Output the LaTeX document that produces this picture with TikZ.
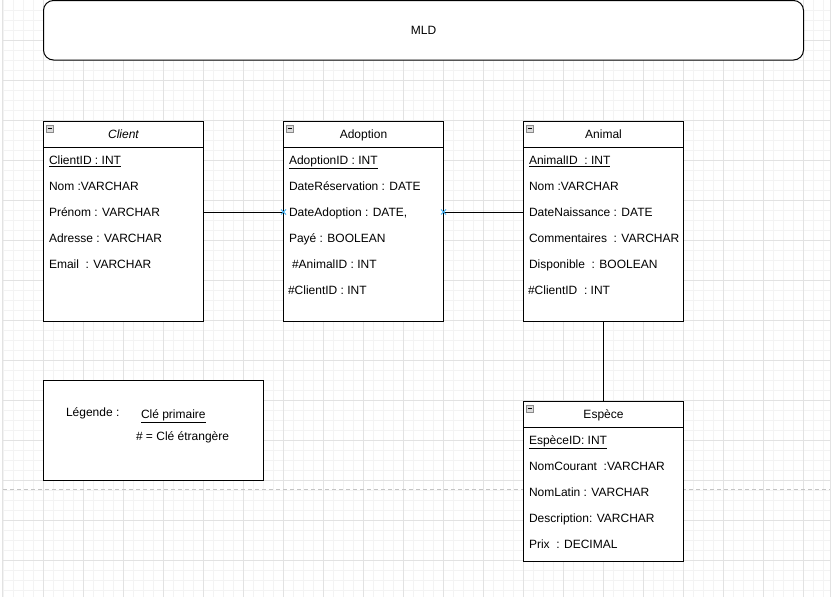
\documentclass[tikz,border=0pt]{standalone}
\usepackage{fontspec}
\setmainfont{Liberation Sans}
\definecolor{gridminor}{HTML}{F3F3F3}
\definecolor{gridmajor}{HTML}{E2E2E2}
\definecolor{hintblue}{HTML}{3BB0F5}
\definecolor{dashgray}{HTML}{C4C4C4}
\definecolor{icongray}{HTML}{8A8A8A}
\definecolor{iconfill}{HTML}{DCDCDC}
\begin{document}
\begin{tikzpicture}[x=1pt,y=-1pt,
  every node/.style={inner sep=0pt, outer sep=0pt, font=\fontsize{12}{14}\selectfont},
  tbl/.style={draw, line width=1pt, minimum width=160pt, anchor=north west},
  rowtxt/.style={anchor=west, text height=9pt, text depth=0pt},
  headtxt/.style={anchor=center, text height=9pt, text depth=0pt},
  minorline/.style={gridminor, line width=1pt},
  majorline/.style={gridmajor, line width=1pt},
  hint/.style={hintblue, line width=1pt},
  conn/.style={line width=1pt}
]
\useasboundingbox (0,0) rectangle (832,597);
\fill[white] (0,0) rectangle (832,597);
% grid
\foreach \x in {3,13,...,823} \draw[minorline] (\x,0) -- (\x,597);
\foreach \y in {10,20,...,590} \draw[minorline] (3,\y) -- (830,\y);
\foreach \x in {43,83,...,803} \draw[majorline] (\x,0) -- (\x,597);
\foreach \y in {40,80,...,560} \draw[majorline] (3,\y) -- (830,\y);
\draw[gridmajor, line width=1.5pt] (2.5,0) -- (2.5,597);
\draw[gridmajor, line width=1pt] (830.5,0) -- (830.5,597);
\draw[dashgray, line width=0.8pt, dash pattern=on 4pt off 3pt] (3,489.5) -- (830,489.5);

% title box
\node[draw, line width=1pt, rounded corners=10pt, minimum width=760pt, minimum height=59.5pt, anchor=north west, fill=white] (mld) at (43.5,0.5) {};
\node[headtxt] (mldt) at (mld.center) {MLD};

% Client
\node[tbl, minimum height=200pt, fill=white] (client) at (43.5,121) {};
\draw[line width=1pt] ([yshift=-26.5pt]client.north west) -- ([yshift=-26.5pt]client.north east);
\node[headtxt] (clienth) at (123.5,134) {\itshape Client};
\node[rowtxt] (c1) at (49,160) {\underline{ClientID : INT}};
\node[rowtxt] (c2) at (49,186) {Nom :VARCHAR};
\node[rowtxt] (c3) at (49,212) {Prénom : VARCHAR};
\node[rowtxt] (c4) at (49,238) {Adresse : VARCHAR};
\node[rowtxt] (c5) at (49,264) {Email \ : VARCHAR};

% Adoption
\node[tbl, minimum height=200pt, fill=white] (adoption) at (283.5,121) {};
\draw[line width=1pt] ([yshift=-26.5pt]adoption.north west) -- ([yshift=-26.5pt]adoption.north east);
\node[headtxt] (adoptionh) at (363.5,134) {Adoption};
\node[rowtxt] (ad1) at (289,160) {\underline{AdoptionID : INT}};
\node[rowtxt] (ad2) at (289,186) {DateRéservation : DATE};
\node[rowtxt] (ad3) at (289,212) {DateAdoption : DATE,};
\node[rowtxt] (ad4) at (289,238) {Payé : BOOLEAN};
\node[rowtxt] (ad5) at (292,264) {\#AnimalID : INT};
\node[rowtxt] (ad6) at (288,290) {\#ClientID : INT};

% Animal
\node[tbl, minimum height=200pt, fill=white] (animal) at (523.5,121) {};
\draw[line width=1pt] ([yshift=-26.5pt]animal.north west) -- ([yshift=-26.5pt]animal.north east);
\node[headtxt] (animalh) at (603.5,134) {Animal};
\node[rowtxt] (an1) at (529,160) {\underline{AnimalID \ : INT}};
\node[rowtxt] (an2) at (529,186) {Nom :VARCHAR};
\node[rowtxt] (an3) at (529,212) {DateNaissance : DATE};
\node[rowtxt] (an4) at (529,238) {Commentaires \ : VARCHAR};
\node[rowtxt] (an5) at (529,264) {Disponible \ : BOOLEAN};
\node[rowtxt] (an6) at (528,290) {\#ClientID \ : INT};

% Espece
\node[tbl, minimum height=160pt, fill=white] (espece) at (523.5,401) {};
\draw[line width=1pt] ([yshift=-26.5pt]espece.north west) -- ([yshift=-26.5pt]espece.north east);
\node[headtxt] (especeh) at (603.5,414) {Espèce};
\node[rowtxt] (e1) at (529,440) {\underline{EspèceID: INT}};
\node[rowtxt] (e2) at (529,466) {NomCourant \ :VARCHAR};
\node[rowtxt] (e3) at (529,492) {NomLatin : VARCHAR};
\node[rowtxt] (e4) at (529,518) {Description: VARCHAR};
\node[rowtxt] (e5) at (529,544) {Prix \ : DECIMAL};

% collapse icons
\foreach \t in {client,adoption,animal,espece}{
  \draw[icongray, fill=iconfill, line width=0.7pt] ([xshift=3pt,yshift=-4pt]\t.north west) rectangle ++(7,7);
  \draw[black, line width=0.9pt] ([xshift=4.5pt,yshift=-7.5pt]\t.north west) -- ++(4,0);
}

% legend
\node[draw, line width=1pt, minimum width=220pt, minimum height=100pt, anchor=north west, fill=white] (legend) at (43.5,380.5) {};
\node[rowtxt] (lg1) at (66,411.5) {Légende :};
\node[rowtxt] (lg2) at (141,413.5) {\underline{Clé primaire}};
\node[rowtxt] (lg3) at (136,436) {\# = Clé étrangère};

% connectors
\coordinate (p1) at (client.east |- c3);
\coordinate (p2) at (adoption.west |- ad3);
\coordinate (p3) at (adoption.east |- ad3);
\coordinate (p4) at (animal.west |- an3);
\draw[conn] (p1) -- (p2);
\draw[conn] (p3) -- (p4);
\draw[conn] (animal.south) -- (espece.north);

% connection hints
\foreach \p in {p2,p3}{
  \draw[hint] ([xshift=-2.5pt,yshift=-2.5pt]\p) -- ([xshift=2.5pt,yshift=2.5pt]\p);
  \draw[hint] ([xshift=-2.5pt,yshift=2.5pt]\p) -- ([xshift=2.5pt,yshift=-2.5pt]\p);
}
\end{tikzpicture}
\end{document}
